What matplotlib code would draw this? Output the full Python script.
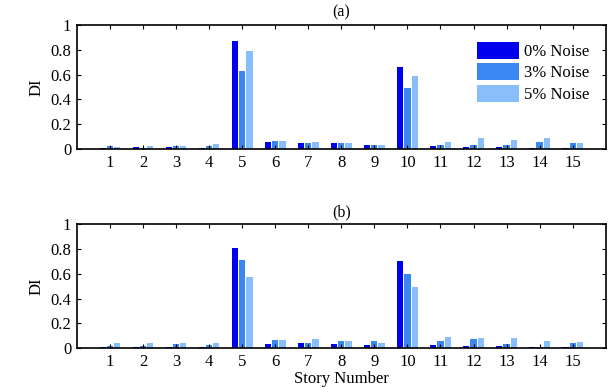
import numpy as np
import matplotlib
matplotlib.use("Agg")
import matplotlib.pyplot as plt
from matplotlib.ticker import FuncFormatter

# story numbers
stories = list(range(1, 16))

# (a) damage index per noise level
di_a_0 = [0.01, 0.015, 0.015, 0.01, 0.87, 0.06, 0.05, 0.045, 0.03, 0.66, 0.025, 0.015, 0.015, 0.01, 0.01]
di_a_3 = [0.02, 0.01, 0.02, 0.025, 0.63, 0.065, 0.05, 0.045, 0.035, 0.49, 0.03, 0.03, 0.03, 0.06, 0.045]
di_a_5 = [0.015, 0.025, 0.02, 0.04, 0.79, 0.065, 0.055, 0.045, 0.03, 0.59, 0.055, 0.085, 0.075, 0.085, 0.045]

# (b) damage index per noise level
di_b_0 = [0.01, 0.01, 0.01, 0.01, 0.81, 0.035, 0.04, 0.035, 0.025, 0.70, 0.025, 0.015, 0.015, 0.01, 0.01]
di_b_3 = [0.02, 0.02, 0.035, 0.025, 0.71, 0.065, 0.045, 0.055, 0.055, 0.60, 0.06, 0.075, 0.035, 0.01, 0.045]
di_b_5 = [0.04, 0.04, 0.04, 0.04, 0.57, 0.065, 0.07, 0.055, 0.04, 0.49, 0.09, 0.08, 0.08, 0.06, 0.05]

labels = ["0% Noise", "3% Noise", "5% Noise"]
colors = ["#0000ee", "#3a87f2", "#88bffa"]

plt.rcParams["font.family"] = ["Liberation Serif", "DejaVu Serif"]
plt.rcParams["font.size"] = 12

fig = plt.figure(figsize=(6.1, 3.92), dpi=100)
ax_a = fig.add_axes([0.126, 0.620, 0.867, 0.316])
ax_b = fig.add_axes([0.126, 0.112, 0.867, 0.316])

x = np.array(stories)
width = 0.19
offsets = [-0.22, 0.0, 0.22]


def draw_panel(ax, series, title):
    for vals, off, col, lab in zip(series, offsets, colors, labels):
        ax.bar(x + off, vals, width=width, color=col, label=lab, linewidth=0)
    ax.set_xlim(0, 16)
    ax.set_ylim(0, 1)
    ax.set_xticks(stories)
    ax.set_yticks([0, 0.2, 0.4, 0.6, 0.8, 1.0])
    ax.yaxis.set_major_formatter(FuncFormatter(lambda v, p: "%g" % v))
    ax.tick_params(direction="in", top=True, right=True, length=3, width=0.8, labelsize=12, pad=4)
    for s in ax.spines.values():
        s.set_linewidth(1.2)
    ax.set_ylabel("DI", fontsize=12, labelpad=4)
    ax.set_title(title, fontsize=11.5, pad=6)


draw_panel(ax_a, [di_a_0, di_a_3, di_a_5], "(a)")
draw_panel(ax_b, [di_b_0, di_b_3, di_b_5], "(b)")
ax_b.set_xlabel("Story Number", fontsize=12, labelpad=1)

ax_a.legend(loc="upper right", frameon=False, handlelength=2.5, handleheight=1.2,
            borderaxespad=0.6, handletextpad=0.3, labelspacing=0.2, fontsize=12)

fig.savefig("out.png", dpi=100)
